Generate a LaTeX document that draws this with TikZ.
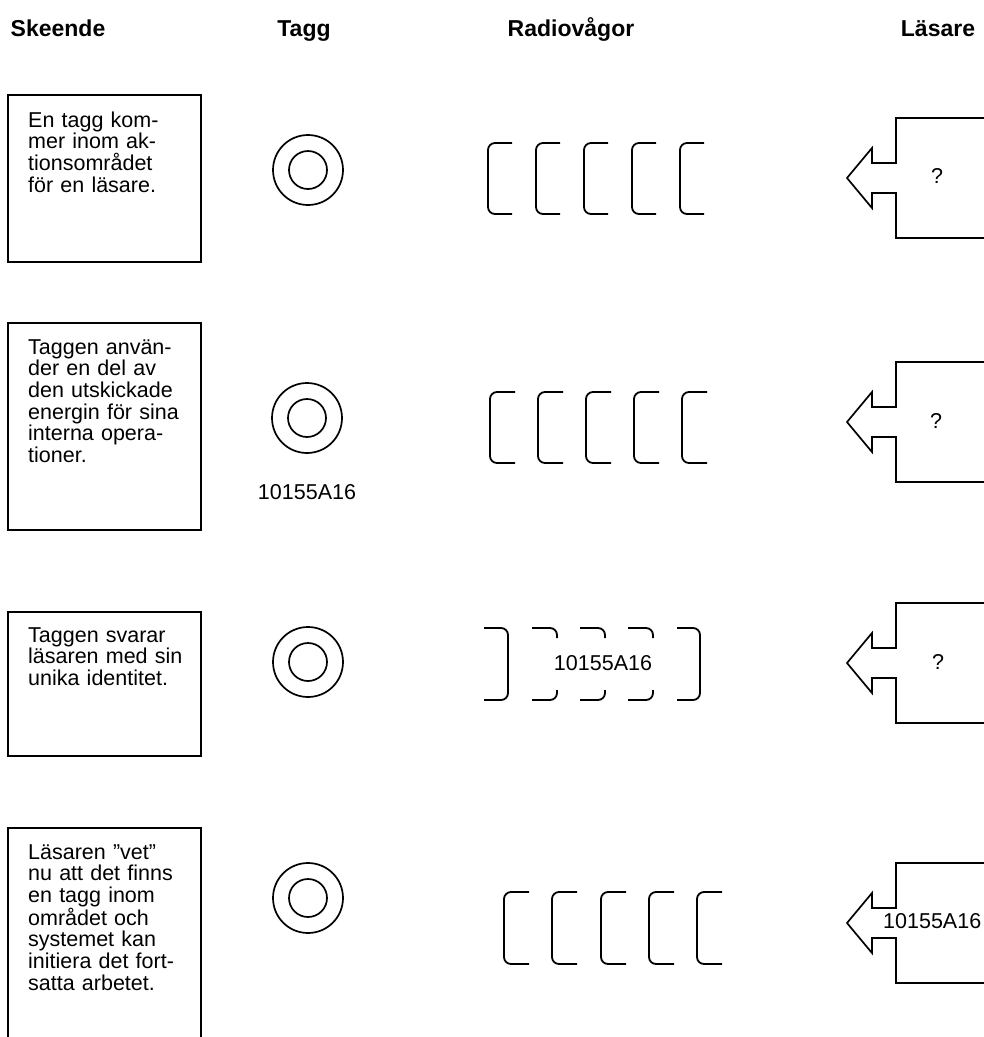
\documentclass[tikz,border=0pt]{standalone}
\usepackage{fontspec}
\setmainfont{Liberation Sans}
\begin{document}
\begin{tikzpicture}[x=1pt,y=-1pt,
  every node/.style={inner sep=0pt},
  body/.style={font=\fontsize{21.5}{21.7}\selectfont},
  header/.style={font=\fontsize{23}{26}\selectfont\bfseries,anchor=base},
  stepbox/.style={draw,line width=1.8pt},
  steptext/.style={body,anchor=base west,text width=180pt,align=left},
  wave/.style={line width=1.8pt,rounded corners=7pt},
  ring/.style={line width=1.7pt},
  reader/.style={line width=1.7pt},
  label/.style={body}]
\useasboundingbox (0,0) rectangle (984,1037);
\clip (0,0) rectangle (984,1037);
% headers
\node[header] (h1) at (58,36) {Skeende};
\node[header] (h2) at (304,36) {Tagg};
\node[header] (h3) at (571,36) {Radiovågor};
\node[header] (h4) at (938,36) {Läsare};
% step boxes
\draw[stepbox] (8,95) rectangle (201,262);
\draw[stepbox] (8,323) rectangle (201,530);
\draw[stepbox] (8,612) rectangle (201,756);
\draw[stepbox] (8,1045) -- (8,828) -- (201,828) -- (201,1045);
\node[steptext] (t1) at (28,127) {En tagg kom-\\mer inom ak-\\tionsområdet\\för en läsare.};
\node[steptext] (t2) at (28,354) {Taggen använ-\\der en del av\\den utskickade\\energin för sina\\interna opera-\\tioner.};
\node[steptext] (t3) at (28,642) {Taggen svarar\\läsaren med sin\\unika identitet.};
\node[steptext] (t4) at (28,859) {Läsaren ”vet”\\nu att det finns\\en tagg inom\\området och\\systemet kan\\initiera det fort-\\satta arbetet.};
% tags
\foreach \cx/\cy in {308/170, 307/418, 308/662, 308/898}{
  \draw[ring] (\cx,\cy) circle (35pt);
  \draw[ring] (\cx,\cy) circle (19pt);
}
\node[label] (taglabel) at (307,492) {10155A16};
% radio waves rows 1, 2, 4
\foreach \x in {488,536,584,632,680}{
  \draw[wave] (\x+24,143) -- (\x,143) -- (\x,214) -- (\x+24,214);
}
\foreach \x in {490,538,586,634,682}{
  \draw[wave] (\x+25,392) -- (\x,392) -- (\x,463) -- (\x+25,463);
}
\foreach \x in {504,552,601,649,697}{
  \draw[wave] (\x+25,892) -- (\x,892) -- (\x,964) -- (\x+25,964);
}
% row 3 reflected waves
\draw[wave] (484,628) -- (508,628) -- (508,700) -- (484,700);
\foreach \x in {557,605,653}{
  \draw[wave] (\x-25,628) -- (\x,628) -- (\x,638);
  \draw[wave] (\x,690) -- (\x,700) -- (\x-25,700);
}
\draw[wave] (677,628) -- (700,628) -- (700,700) -- (677,700);
\node[label] (wavelabel) at (603,663) {10155A16};
% readers
\foreach \t in {178,422,663,923}{
  \draw[reader] (990,\t-60) -- (896,\t-60) -- (896,\t-15) -- (872,\t-15) -- (872,\t-30)
    -- (847,\t) -- (872,\t+30) -- (872,\t+15) -- (896,\t+15) -- (896,\t+60) -- (990,\t+60);
}
\node[label] (q1) at (937,176) {?};
\node[label] (q2) at (936,421) {?};
\node[label] (q3) at (938,662) {?};
\node[label,anchor=base west] (r4) at (883,928) {10155A16};
\end{tikzpicture}
\end{document}
